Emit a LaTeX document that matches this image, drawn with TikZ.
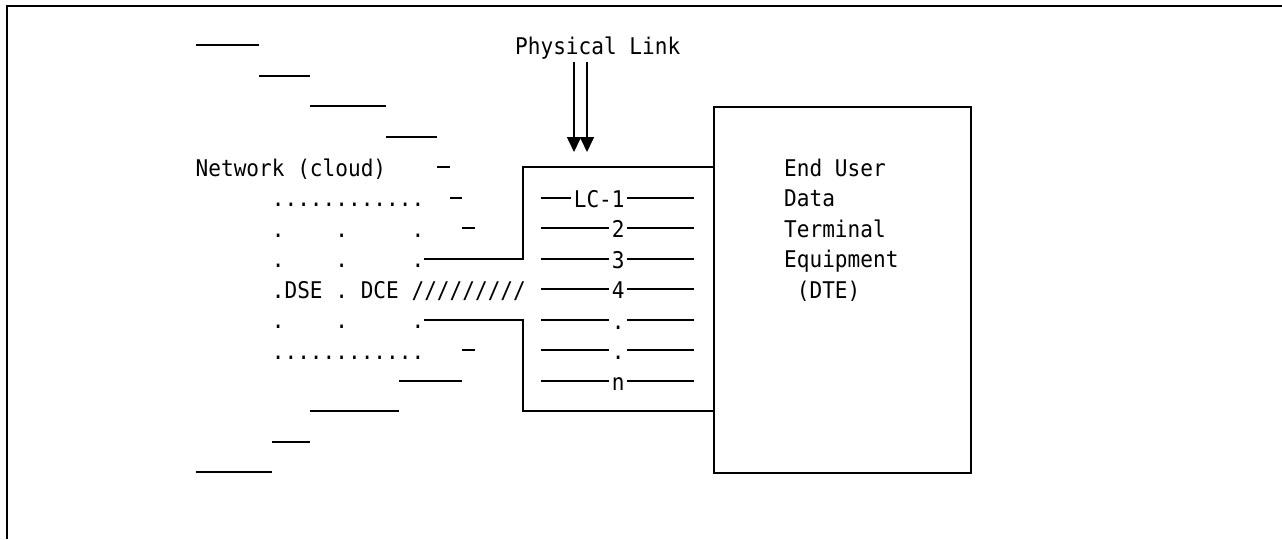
\documentclass[tikz,border=0pt]{standalone}
\usepackage{fontspec}
\newfontfamily\termfont[FakeStretch=0.917]{DejaVu Sans Mono}
\usetikzlibrary{arrows.meta}

\begin{document}
\begin{tikzpicture}[
  x=1pt, y=-1pt,
  every node/.style={font=\termfont\fontsize{23}{28}\selectfont, inner sep=0pt},
  txt/.style={anchor=base west},
  wire/.style={line width=2pt},
  thin wire/.style={line width=1.8pt},
  link/.style={line width=1.6pt, -{Triangle[length=15pt,width=14pt]}},
  lcnum/.style={anchor=base east, inner sep=2.5pt}
]
\useasboundingbox (0,0) rectangle (1282,539);

% Rahmen (oben und links)
\draw[wire] (1282,6) -- (7,6) -- (7,539);

% Physical Link
\node[txt] (plink) at (515,54) {Physical Link};
\coordinate (pls1) at (574,62);
\coordinate (pls2) at (587,62);
\coordinate (ple1) at (574,152);
\coordinate (ple2) at (587,152);
\draw[link] (pls1) -- (ple1);
\draw[link] (pls2) -- (ple2);

% DTE
\node[draw, line width=2pt, anchor=north west,
      minimum width=257pt, minimum height=366pt] (dte) at (713,106) {};
\foreach \t [count=\i from 4] in {End User,Data,Terminal,Equipment,{\ (DTE)}}
  \node[txt] (dtetxt\i) at (784,45+30.5*\i+9) {\t};

% Kanal zwischen DCE und DTE
\coordinate (chtl) at (523,167);
\coordinate (chtin) at (424,259);
\coordinate (chbl) at (523,411);
\coordinate (chbin) at (424,320);
\draw[wire] (chtin) -- (chtin -| chtl) -- (chtl) -- (dte.west |- chtl);
\draw[wire] (chbin) -- (chbin -| chbl) -- (chbl) -- (dte.west |- chbl);

% logische Kanaele
\foreach \t [count=\i] in {LC-1,2,3,4,.,.,n} {
  \pgfmathtruncatemacro\y{167+30.5*\i+0.5}
  \coordinate (lcl\i) at (541,\y);
  \coordinate (lcr\i) at (694,\y);
  \node[lcnum] (lc\i) at (627.3,\y+9) {\t};
  \draw[thin wire] (lcl\i) -- (lc\i.west |- lcl\i);
  \draw[thin wire] (lc\i.east |- lcr\i) -- (lcr\i);
}

% Netzwerk (Wolke)
\node[txt] (net) at (195.5,176) {Network (cloud)};
\node[txt] (dots1) at (271.7,206.5) {............};
\node[txt] (dots2) at (271.7,237) {.\ \ \ \ .\ \ \ \ \ .};
\node[txt] (dots3) at (271.7,267.5) {.\ \ \ \ .\ \ \ \ \ .};
\node[txt] (dse) at (271.7,298) {.DSE . DCE /////////};
\node[txt] (dots4) at (271.7,328.5) {.\ \ \ \ .\ \ \ \ \ .};
\node[txt] (dots5) at (271.7,359) {............};

% Treppenlinien der Wolke
\foreach \a/\b/\y in {196/259/45, 259/310/76, 310/386/106,
    386/437/137, 437/450/167, 450/462/198, 462/475/228,
    462/475/350, 399/462/381, 310/399/411,
    272/310/442, 196/272/472}
  \draw[wire] (\a,\y) -- (\b,\y);

\end{tikzpicture}
\end{document}
